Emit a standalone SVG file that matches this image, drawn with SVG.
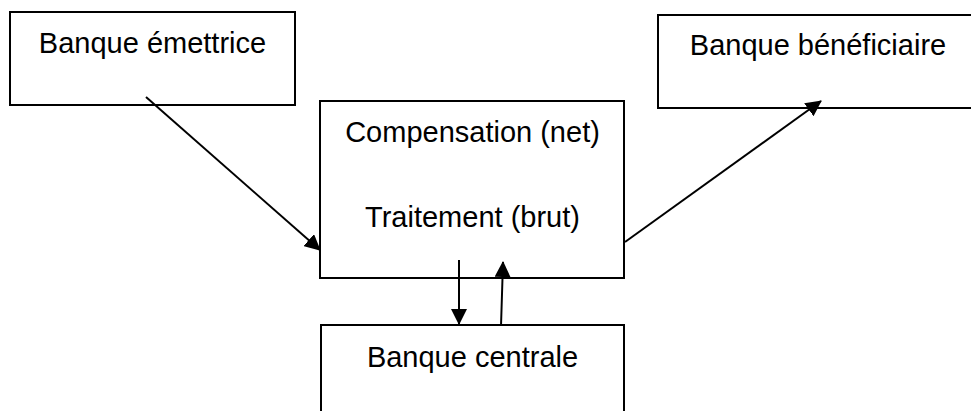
<svg xmlns="http://www.w3.org/2000/svg" width="971" height="411" viewBox="0 0 971 411">
  <style>
    .box { fill: #ffffff; stroke: #000000; stroke-width: 2; }
    .label { font-family: "Liberation Sans", Arial, sans-serif; font-size: 29px; fill: #000000; text-anchor: middle; }
    .link { stroke: #000000; stroke-width: 2; fill: none; marker-end: url(#head); }
  </style>
  <defs>
    <marker id="head" markerUnits="userSpaceOnUse" markerWidth="16" markerHeight="16" refX="15" refY="8" orient="auto">
      <path d="M0,0 L16,8 L0,16 Z" fill="#000000"/>
    </marker>
  </defs>

  <rect width="971" height="411" fill="#ffffff"/>

  <g id="banque-emettrice">
    <rect class="box" x="10" y="12" width="285" height="93"/>
    <text class="label" x="152.5" y="53">Banque émettrice</text>
  </g>

  <g id="banque-beneficiaire">
    <rect class="box" x="658" y="15" width="330" height="93"/>
    <text class="label" x="818" y="55">Banque bénéficiaire</text>
  </g>

  <g id="compensation">
    <rect class="box" x="320" y="101" width="304" height="177"/>
    <text class="label" x="472.5" y="142">Compensation (net)</text>
    <text class="label" x="472.5" y="227">Traitement (brut)</text>
  </g>

  <g id="banque-centrale">
    <rect class="box" x="321" y="325" width="303" height="110"/>
    <text class="label" x="472.5" y="367">Banque centrale</text>
  </g>

  <g id="connectors">
    <line class="link" x1="146" y1="97" x2="320" y2="250"/>
    <line class="link" x1="625" y1="242" x2="821" y2="101"/>
    <line class="link" x1="459" y1="260" x2="459" y2="324"/>
    <line class="link" x1="501" y1="326" x2="503" y2="262"/>
  </g>
</svg>
